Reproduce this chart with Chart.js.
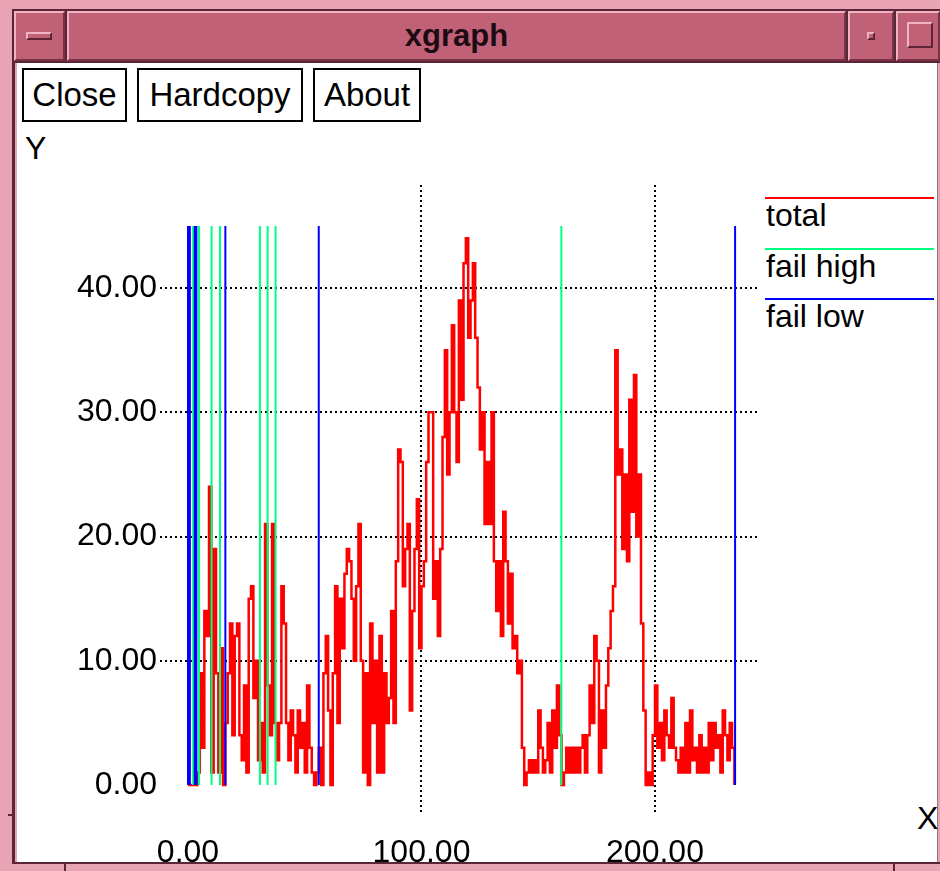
<!DOCTYPE html>
<html>
<head>
<meta charset="utf-8">
<title>xgraph</title>
<script src="https://cdn.jsdelivr.net/npm/chart.js@4.4.0/dist/chart.umd.min.js"></script>
<style>
  body { margin: 0; width: 940px; height: 871px; position: relative; overflow: hidden;
         background: #e8a4b5; font-family: 'Liberation Sans', Arial, sans-serif; }
  .abs { position: absolute; }
  .tbback { left: 12px; top: 9px; width: 928px; height: 54px; background: #5b2535; }
  .seg { position: absolute; top: 11px; height: 50px; box-sizing: border-box; background: #c16178;
         border-top: 2px solid #efb3c3; border-left: 2px solid #efb3c3;
         border-right: 2px solid #7a3244; border-bottom: 2px solid #7a3244; }
  .title { font-weight: bold; font-size: 31px; line-height: 46px; text-align: center; color: #1c0c12; }
  .dash { left: 10px; top: 19px; width: 26px; height: 8px; box-sizing: border-box; background: #c16178;
          border-top: 2px solid #efb3c3; border-left: 2px solid #efb3c3;
          border-right: 2px solid #5b2535; border-bottom: 2px solid #5b2535; }
  .dot { left: 17px; top: 19px; width: 8px; height: 8px; box-sizing: border-box;
         border-top: 2px solid #efb3c3; border-left: 2px solid #efb3c3;
         border-right: 2px solid #5b2535; border-bottom: 2px solid #5b2535; }
  .sq { left: 9px; top: 9px; width: 26px; height: 26px; box-sizing: border-box;
        border-top: 2px solid #efb3c3; border-left: 2px solid #efb3c3;
        border-right: 2px solid #5b2535; border-bottom: 2px solid #5b2535; }
  .client { left: 17px; top: 63px; width: 920px; height: 799px; background: #fff; }
  .btn { position: absolute; top: 68px; height: 54px; box-sizing: border-box; border: 2px solid #000;
         background: #fff; font-size: 33px; line-height: 50px; text-align: center; color: #000; }
  .lbl { position: absolute; font-size: 32px; line-height: 32px; color: #000; white-space: nowrap; }
  .legline { position: absolute; left: 765px; width: 169px; height: 2px; }
  canvas { position: absolute; left: 0; top: 0; }
</style>
</head>
<body>
<div class="abs tbback"></div>
<div class="seg" style="left:14px;width:51px"><div class="abs dash"></div></div>
<div class="seg title" style="left:67px;width:779px">xgraph</div>
<div class="seg" style="left:848px;width:46px"><div class="abs dot"></div></div>
<div class="seg" style="left:896px;width:44px"><div class="abs sq"></div></div>
<div class="abs" style="left:12px;top:63px;width:3px;height:801px;background:#5b2535"></div>
<div class="abs" style="left:12px;top:862px;width:928px;height:2px;background:#5b2535"></div>
<div class="abs" style="left:937px;top:63px;width:1px;height:799px;background:#8c7a80"></div>
<div class="abs" style="left:8px;top:814px;width:5px;height:2px;background:#5b2535"></div>
<div class="abs" style="left:64px;top:864px;width:2px;height:7px;background:#5b2535"></div>
<div class="abs" style="left:893px;top:864px;width:2px;height:7px;background:#5b2535"></div>
<div class="abs client"></div>

<div class="btn" style="left:22px;width:105px">Close</div>
<div class="btn" style="left:137px;width:166px">Hardcopy</div>
<div class="btn" style="left:313px;width:108px">About</div>

<div class="lbl" style="left:25px;top:132px">Y</div>
<div class="lbl" style="left:917px;top:802px">X</div>
<div id="legend"></div>

<canvas id="graph" width="940" height="871"></canvas>

<script>
// series names and colours (xgraph defaults)
var seriesNames = ['total', 'fail high', 'fail low'];
var seriesColors = ['#ff0000', '#00ff7f', '#0000ff'];

// total: one value per x step (x = 0, 1, 2, ...)
var totalValues = [
  0, 0, 0, 0, 1, 9, 3, 14, 12, 24,
  1, 19, 9, 1, 11, 0, 5, 9, 13, 4,
  12, 13, 4, 2, 8, 1, 15, 16, 7, 10,
  2, 5, 1, 21, 8, 4, 21, 5, 2, 5,
  16, 13, 5, 2, 6, 4, 1, 6, 3, 5,
  1, 8, 3, 1, 0, 1, 3, 0, 9, 12,
  6, 0, 9, 16, 5, 15, 11, 17, 19, 18,
  15, 10, 16, 21, 10, 1, 9, 0, 13, 5,
  10, 1, 12, 1, 9, 5, 7, 14, 5, 18,
  27, 26, 16, 19, 21, 6, 14, 19, 23, 11,
  16, 18, 26, 30, 30, 15, 18, 12, 19, 28,
  35, 25, 30, 37, 30, 26, 39, 31, 42, 44,
  36, 39, 42, 36, 32, 27, 30, 21, 26, 21,
  30, 18, 14, 18, 12, 22, 18, 13, 17, 11,
  12, 9, 10, 3, 0, 1, 2, 1, 2, 1,
  6, 3, 1, 2, 5, 1, 6, 3, 8, 4,
  0, 1, 3, 1, 3, 1, 3, 1, 3, 4,
  1, 4, 8, 5, 12, 10, 1, 6, 3, 8,
  11, 14, 16, 35, 25, 27, 19, 25, 18, 31,
  22, 33, 20, 25, 13, 6, 0, 1, 0, 4,
  8, 3, 5, 2, 6, 4, 3, 7, 3, 2,
  1, 3, 1, 5, 1, 6, 2, 3, 1, 4,
  1, 3, 1, 5, 2, 5, 3, 4, 1, 6,
  4, 2, 5, 3, 0
];

// x positions of the vertical markers, drawn from 0 up to markerTop
var failHighX = [2.2, 4.7, 10.1, 13.7, 30.8, 34.1, 37.5, 159.9];
var failLowX = [0, 0.8, 2.9, 3.6, 16, 56, 234.3];
var markerTop = 45;

var xTickValues = [0, 100, 200];
var xTickLabels = ['0.00', '100.00', '200.00'];
var yTickValues = [0, 10, 20, 30, 40];
var yTickLabels = ['0.00', '10.00', '20.00', '30.00', '40.00'];

var totalPoints = totalValues.map(function (v, i) { return { x: i, y: v }; });

function markers(xs) {
  var pts = [];
  xs.forEach(function (x) {
    pts.push({ x: x, y: 0 }, { x: x, y: markerTop }, { x: x, y: null });
  });
  return pts;
}

// legend, xgraph style: coloured line with the name under it
var legend = document.getElementById('legend');
seriesNames.forEach(function (name, i) {
  var top = 197 + i * 50.5;
  var line = document.createElement('div');
  line.className = 'legline';
  line.style.top = top + 'px';
  line.style.background = seriesColors[i];
  legend.appendChild(line);
  var txt = document.createElement('div');
  txt.className = 'lbl';
  txt.style.left = '766px';
  txt.style.top = (top + 2) + 'px';
  txt.textContent = name;
  legend.appendChild(txt);
});

var tickFont = { family: 'Liberation Sans', size: 32 };
var hideZero = function (c) { return c.tick && c.tick.value === 0 ? 'rgba(0,0,0,0)' : '#000'; };

var ctx = document.getElementById('graph');
var graph = new Chart(ctx, {
  type: 'line',
  data: {
    datasets: [{
      label: seriesNames[0],
      data: totalPoints,
      borderColor: seriesColors[0],
      borderWidth: 2.5,
      stepped: true,
      order: 3
    }, {
      label: seriesNames[1],
      data: markers(failHighX),
      borderColor: seriesColors[1],
      borderWidth: 2,
      spanGaps: false,
      order: 2
    }, {
      label: seriesNames[2],
      data: markers(failLowX),
      borderColor: seriesColors[2],
      borderWidth: 2,
      spanGaps: false,
      order: 1
    }]
  },
  options: {
    responsive: false,
    animation: false,
    layout: { padding: { left: 0, right: 180, top: 185, bottom: 0 } },
    elements: { point: { radius: 0 }, line: { tension: 0, fill: false } },
    plugins: {
      legend: { display: false },
      tooltip: { enabled: false }
    },
    scales: {
      x: {
        type: 'linear',
        min: -11.99,
        max: 244.97,
        afterFit: function (s) { s.height = 59; },
        afterBuildTicks: function (s) { s.ticks = xTickValues.map(function (v) { return { value: v }; }); },
        grid: { color: hideZero, lineWidth: 2, drawTicks: false },
        border: { display: false, dash: [2, 3] },
        ticks: {
          color: '#000',
          font: tickFont,
          padding: 22,
          autoSkip: false,
          maxRotation: 0,
          callback: function (v) { return xTickLabels[xTickValues.indexOf(v)]; }
        }
      },
      y: {
        type: 'linear',
        min: -2.173,
        max: 48.29,
        afterFit: function (s) { s.width = 160; },
        afterBuildTicks: function (s) { s.ticks = yTickValues.map(function (v) { return { value: v }; }); },
        grid: { color: hideZero, lineWidth: 2, drawTicks: false },
        border: { display: false, dash: [2, 3] },
        ticks: {
          color: '#000',
          font: tickFont,
          padding: 3,
          autoSkip: false,
          callback: function (v) { return yTickLabels[yTickValues.indexOf(v)]; }
        }
      }
    }
  }
});
</script>
</body>
</html>
